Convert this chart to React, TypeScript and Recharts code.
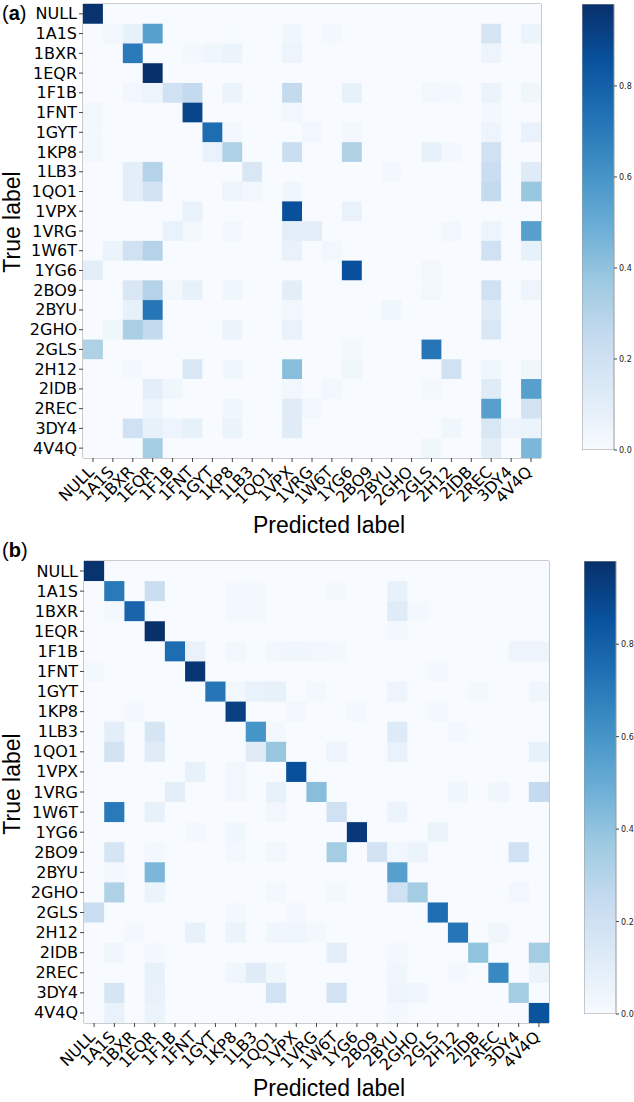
import React from 'react';
import { ScatterChart, Scatter, XAxis, YAxis, ReferenceLine, BarChart, Bar } from 'recharts';

const labels = [
  'NULL', '1A1S', '1BXR', '1EQR', '1F1B', '1FNT', '1GYT', '1KP8', '1LB3', '1QO1', '1VPX', '1VRG',
  '1W6T', '1YG6', '2BO9', '2BYU', '2GHO', '2GLS', '2H12', '2IDB', '2REC', '3DY4', '4V4Q',
];

// panel (a), rows = true label, cols = predicted label
const matrixA = [
  [.97, 0, 0, 0, 0, 0, 0, 0, 0, 0, 0, 0, 0, 0, 0, 0, 0, 0, 0, 0, 0, 0, 0],
  [0, .03, .08, .55, 0, 0, 0, .01, 0, 0, .04, 0, .02, 0, 0, 0, 0, 0, 0, 0, .17, 0, .06],
  [0, 0, .7, 0, 0, .02, .04, .06, 0, 0, .05, 0, 0, 0, 0, 0, 0, 0, 0, 0, .05, 0, 0],
  [0, 0, 0, .98, 0, 0, 0, 0, 0, 0, 0, 0, 0, 0, 0, 0, 0, 0, 0, 0, 0, 0, 0],
  [0, 0, .03, .05, .2, .25, 0, .06, 0, 0, .25, 0, 0, .08, 0, 0, 0, .03, .02, 0, .06, 0, .04],
  [.03, 0, 0, 0, 0, .9, 0, 0, 0, 0, .03, 0, 0, 0, 0, 0, 0, 0, 0, 0, .02, 0, 0],
  [.02, 0, 0, 0, 0, 0, .75, .02, 0, 0, 0, .03, 0, .02, 0, 0, 0, 0, 0, 0, .05, 0, .07],
  [.03, 0, 0, 0, 0, 0, .07, .32, 0, 0, .22, 0, 0, .32, 0, 0, 0, .08, .02, 0, .2, 0, 0],
  [0, 0, .1, .3, 0, 0, 0, 0, .15, 0, 0, 0, 0, 0, 0, .02, 0, 0, 0, 0, .22, 0, .12],
  [0, 0, .1, .18, 0, 0, 0, .05, .03, 0, .04, 0, 0, 0, 0, 0, 0, 0, 0, 0, .25, 0, .38],
  [0, 0, 0, 0, 0, .07, 0, 0, 0, 0, .86, 0, 0, .07, 0, 0, 0, 0, 0, 0, 0, 0, 0],
  [0, 0, 0, 0, .07, .03, 0, .03, 0, 0, .1, .1, 0, 0, 0, 0, 0, 0, .03, 0, .05, 0, .55],
  [0, .06, .2, .3, 0, 0, 0, 0, 0, 0, .07, 0, .03, 0, 0, 0, 0, 0, 0, 0, .2, 0, .08],
  [.1, 0, 0, 0, 0, 0, 0, 0, 0, 0, 0, 0, 0, .86, 0, 0, 0, .03, 0, 0, 0, 0, 0],
  [0, 0, .15, .3, .03, .08, 0, .04, 0, 0, .1, 0, 0, 0, 0, 0, 0, .03, 0, 0, .2, 0, .05],
  [0, 0, .08, .72, 0, 0, 0, 0, 0, 0, .03, 0, 0, 0, 0, .04, 0, 0, 0, 0, .12, 0, 0],
  [0, .04, .33, .25, 0, 0, 0, .06, 0, 0, .07, 0, 0, 0, 0, 0, 0, 0, 0, 0, .15, 0, 0],
  [.32, 0, 0, 0, 0, 0, 0, 0, 0, 0, 0, 0, 0, .02, 0, 0, 0, .72, 0, 0, 0, 0, 0],
  [0, 0, .02, 0, 0, .15, 0, .04, 0, 0, .42, 0, 0, .04, 0, 0, 0, 0, .2, 0, .04, 0, .04],
  [0, 0, 0, .1, .04, 0, 0, 0, 0, 0, .03, 0, .03, 0, 0, 0, 0, .02, 0, 0, .12, 0, .55],
  [0, 0, 0, .05, 0, 0, 0, .04, 0, 0, .12, .03, 0, 0, 0, 0, 0, 0, 0, 0, .55, 0, .18],
  [0, 0, .2, .08, .05, .08, 0, .06, 0, 0, .12, 0, 0, 0, 0, 0, 0, 0, .04, 0, .15, .05, .06],
  [0, 0, 0, .35, 0, 0, 0, 0, 0, 0, 0, 0, 0, 0, 0, 0, 0, .04, 0, 0, .1, 0, .45],
];

// panel (b)
const matrixB = [
  [.97, 0, 0, 0, 0, 0, 0, 0, 0, 0, 0, 0, 0, 0, 0, 0, 0, 0, 0, 0, 0, 0, 0],
  [0, .7, 0, .22, 0, 0, 0, .02, .02, 0, 0, 0, .02, 0, 0, .08, 0, 0, 0, 0, 0, 0, 0],
  [0, .02, .78, 0, 0, 0, 0, .02, .02, 0, 0, 0, 0, 0, 0, .12, .02, 0, 0, 0, 0, 0, 0],
  [0, 0, 0, .98, 0, 0, 0, 0, 0, 0, 0, 0, 0, 0, 0, .02, 0, 0, 0, 0, 0, 0, 0],
  [0, 0, 0, 0, .75, .07, 0, .03, 0, .03, .04, .03, .02, 0, 0, 0, 0, 0, 0, 0, 0, .05, .05],
  [.02, 0, 0, 0, 0, .96, 0, 0, 0, 0, 0, 0, 0, 0, 0, 0, 0, .02, 0, 0, 0, 0, 0],
  [0, 0, 0, 0, 0, 0, .72, .03, .07, .08, 0, .02, 0, 0, 0, .05, 0, 0, 0, .02, 0, 0, .04],
  [0, 0, .02, 0, 0, 0, 0, .92, 0, 0, .03, 0, 0, .02, 0, 0, 0, .02, 0, 0, 0, 0, 0],
  [0, .1, 0, .17, 0, 0, 0, 0, .6, .02, 0, 0, 0, 0, 0, .13, 0, 0, .02, 0, 0, 0, 0],
  [0, .18, 0, .12, 0, 0, 0, 0, .12, .38, 0, 0, .05, 0, 0, .07, 0, 0, 0, 0, 0, 0, .08],
  [0, 0, 0, 0, 0, .08, 0, .03, 0, 0, .86, 0, 0, 0, 0, 0, 0, 0, 0, 0, 0, 0, 0],
  [0, 0, 0, 0, .1, 0, 0, .03, 0, .08, 0, .42, 0, 0, 0, 0, 0, 0, .04, 0, .04, 0, .25],
  [0, .7, 0, .08, 0, 0, 0, 0, 0, .03, 0, 0, .2, 0, 0, .06, 0, 0, 0, 0, 0, 0, 0],
  [0, 0, 0, 0, 0, .02, 0, .04, 0, 0, 0, 0, 0, .95, 0, 0, 0, .06, 0, 0, 0, 0, 0],
  [0, .17, 0, .02, 0, 0, 0, .02, 0, .03, 0, 0, .35, 0, .18, .03, .06, 0, 0, 0, 0, .2, 0],
  [0, .02, 0, .45, 0, 0, 0, 0, 0, 0, 0, 0, 0, 0, 0, .55, 0, 0, 0, 0, 0, 0, 0],
  [0, .32, 0, .06, 0, 0, 0, 0, 0, .02, 0, 0, .02, 0, 0, .2, .35, 0, 0, 0, 0, .03, 0],
  [.22, 0, 0, 0, 0, 0, 0, .02, 0, 0, .02, 0, 0, 0, 0, 0, 0, .75, 0, 0, 0, 0, 0],
  [0, 0, .02, 0, 0, .08, 0, .06, 0, .04, .04, .02, 0, 0, 0, 0, 0, 0, .72, 0, .04, 0, 0],
  [0, .04, 0, .02, 0, 0, 0, 0, 0, 0, 0, 0, .1, 0, 0, .02, 0, 0, 0, .4, 0, 0, .35],
  [0, 0, 0, .08, 0, 0, 0, .04, .12, .04, 0, 0, 0, 0, 0, .04, 0, 0, .02, 0, .65, 0, .06],
  [0, .17, 0, .07, 0, 0, 0, 0, 0, .18, 0, 0, .18, 0, 0, .05, .04, 0, 0, 0, 0, .35, 0],
  [0, .07, 0, .06, 0, 0, 0, 0, 0, 0, 0, 0, 0, 0, 0, .02, 0, 0, 0, 0, 0, 0, .85],
];

const colorbarTicks = [0, 0.2, 0.4, 0.6, 0.8];

// matplotlib "Blues"
const blues = ['#f7fbff', '#deebf7', '#c6dbef', '#9ecae1', '#6baed6', '#4292c6', '#2171b5', '#08519c', '#08306b'];

const hex = (h: string) => [1, 3, 5].map((i) => parseInt(h.slice(i, i + 2), 16));

function bluesColor(t: number) {
  const p = Math.max(0, Math.min(1, t)) * (blues.length - 1);
  const i = Math.min(Math.floor(p), blues.length - 2);
  const f = p - i;
  const a = hex(blues[i]);
  const b = hex(blues[i + 1]);
  const c = a.map((v, k) => Math.round(v + (b[k] - v) * f));
  return `rgb(${c[0]},${c[1]},${c[2]})`;
}

const idx = labels.map((_, i) => i);
const labelFont = 'DejaVu Sans, sans-serif';
const titleFont = 'Liberation Sans, Arial, sans-serif';

function XTick(props: any) {
  const { x, y, payload } = props;
  const ax = x + 2;
  const ay = y + 9;
  return (
    <text x={ax} y={ay} transform={`rotate(-45 ${ax} ${ay})`} textAnchor="end"
      fontSize={16} fontFamily={labelFont} fill="#000">
      {labels[payload.value]}
    </text>
  );
}

function YTick(props: any) {
  const { x, y, payload } = props;
  return (
    <text x={x} y={y + 5.5} textAnchor="end" fontSize={16} fontFamily={labelFont} fill="#000">
      {labels[payload.value]}
    </text>
  );
}

function CbTick(props: any) {
  const { x, y, payload } = props;
  return (
    <text x={x} y={y + 3} textAnchor="start" fontSize={8} fontFamily={labelFont} fill="#222">
      {payload.value.toFixed(1)}
    </text>
  );
}

function Heatmap({ matrix, panel }: any) {
  const vmax = Math.max(...matrix.flat());
  const cells = matrix.flatMap((row: number[], r: number) => row.map((v, c) => ({ x: c, y: r, v })));
  const cw = panel.plotW / labels.length;
  const ch = panel.plotH / labels.length;
  const width = panel.plotLeft + panel.plotW + 4;
  const height = panel.plotTop + panel.plotH + panel.axisH;
  return (
    <div style={{ position: 'absolute', left: 0, top: panel.top }}>
      <ScatterChart width={width} height={height} margin={{ top: panel.plotTop, right: 4, bottom: 0, left: 0 }}>
        <XAxis type="number" dataKey="x" domain={[-0.5, labels.length - 0.5]} ticks={idx} interval={0}
          height={panel.axisH} tickSize={4} tickMargin={2} tick={<XTick />}
          axisLine={{ stroke: '#999' }} tickLine={{ stroke: '#444' }} allowDataOverflow />
        <YAxis type="number" dataKey="y" domain={[-0.5, labels.length - 0.5]} ticks={idx} interval={0}
          reversed width={panel.plotLeft} tickSize={4} tickMargin={2} tick={<YTick />}
          axisLine={{ stroke: '#999' }} tickLine={{ stroke: '#444' }} allowDataOverflow />
        <Scatter data={cells} isAnimationActive={false}
          shape={(p: any) => (
            <rect x={p.cx - cw / 2} y={p.cy - ch / 2} width={cw + 0.4} height={ch + 0.4}
              fill={bluesColor(p.payload.v / vmax)} />
          )} />
        <ReferenceLine x={labels.length - 0.5} stroke="#999" />
        <ReferenceLine y={-0.5} stroke="#999" />
      </ScatterChart>
    </div>
  );
}

function Colorbar({ matrix, bar, id }: any) {
  const vmax = Math.max(...matrix.flat());
  return (
    <div style={{ position: 'absolute', left: bar.left, top: 0 }}>
      <BarChart width={bar.width + 20} height={bar.top + bar.height + 6} data={[{ k: 'cb', v: vmax }]}
        margin={{ top: bar.top, right: 0, bottom: 6, left: 0 }} barCategoryGap={0} barGap={0}>
        <defs>
          <linearGradient id={id} x1="0" y1="1" x2="0" y2="0">
            {blues.map((c, i) => (
              <stop key={i} offset={i / (blues.length - 1)} stopColor={c} />
            ))}
          </linearGradient>
        </defs>
        <XAxis dataKey="k" hide />
        <YAxis orientation="right" domain={[0, vmax]} ticks={colorbarTicks} interval={0} width={20} allowDataOverflow
          tickSize={3} tickMargin={2} axisLine={false} tickLine={{ stroke: '#444' }} tick={<CbTick />} />
        <Bar dataKey="v" fill={`url(#${id})`} stroke="#999" isAnimationActive={false} />
      </BarChart>
    </div>
  );
}

const panelA = { top: 0, plotLeft: 83, plotTop: 4, plotW: 458, plotH: 454, axisH: 90 };
const panelB = { top: 520, plotLeft: 84, plotTop: 41, plotW: 465, plotH: 462, axisH: 79 };
const barA = { left: 582, top: 4, width: 32, height: 446 };
const barB = { left: 584, top: 561, width: 32, height: 453 };

export default function App() {
  return (
    <div style={{ position: 'absolute', left: 0, top: 0, width: 634, height: 1102, overflow: 'hidden', background: '#fff' }}>
      <Heatmap matrix={matrixA} panel={panelA} />
      <Heatmap matrix={matrixB} panel={panelB} />
      <Colorbar matrix={matrixA} bar={barA} id="cbA" />
      <Colorbar matrix={matrixB} bar={barB} id="cbB" />
      <svg width={634} height={1102} style={{ position: 'absolute', left: 0, top: 0, pointerEvents: 'none' }}>
        <g fontFamily={titleFont} fill="#000">
          <text x={2} y={20} fontSize={20}>(<tspan fontWeight="bold">a</tspan>)</text>
          <text x={2} y={557} fontSize={20}>(<tspan fontWeight="bold">b</tspan>)</text>
          <text x={20} y={222} fontSize={23} textAnchor="middle" transform="rotate(-90 20 222)">True label</text>
          <text x={20} y={784} fontSize={23} textAnchor="middle" transform="rotate(-90 20 784)">True label</text>
          <text x={253} y={533} fontSize={23}>Predicted label</text>
          <text x={253} y={1096} fontSize={23}>Predicted label</text>
        </g>
      </svg>
    </div>
  );
}
